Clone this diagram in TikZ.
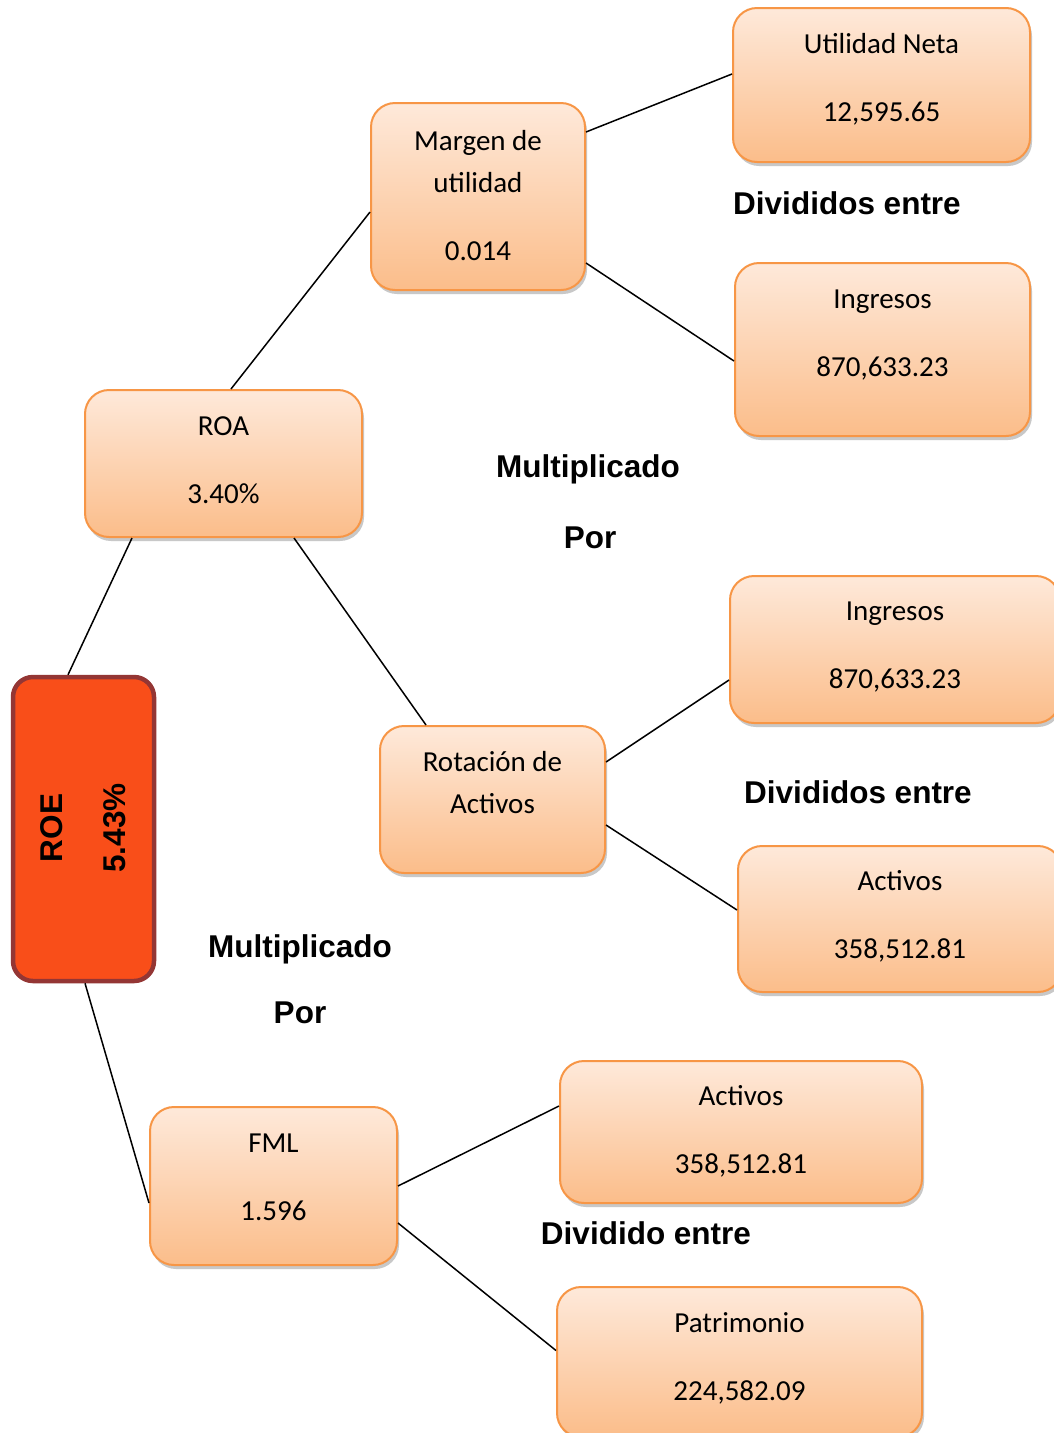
\documentclass[tikz,border=0pt]{standalone}
\usepackage{fontspec}
\setmainfont{Carlito}
\newfontfamily\lab{Liberation Sans}
\usetikzlibrary{shadows,calc}
\definecolor{obord}{HTML}{F79646}
\definecolor{otop}{HTML}{FEE9DA}
\definecolor{obot}{HTML}{FBBD8A}
\definecolor{roefill}{HTML}{F94E19}
\definecolor{roebord}{HTML}{943634}
\tikzset{
 ibox/.style={draw=obord, line width=2pt, rounded corners=24pt, top color=otop, bottom color=obot,
   drop shadow={opacity=0.3, shadow xshift=2pt, shadow yshift=-4pt, fill=black!70}, inner sep=0pt},
 txt/.style={align=center, inner sep=0pt, font=\fontsize{29}{42}\selectfont},
 lbl/.style={inner sep=0pt, font=\lab\bfseries\fontsize{31.5}{38}\selectfont},
 conn/.style={draw=black, line width=1.5pt}
}
\begin{document}
\begin{tikzpicture}[x=1pt,y=-1pt]
\clip (0,0) rectangle (1054,1433);
\fill[white] (0,0) rectangle (1054,1433);
% boxes
\node[ibox, minimum width=297pt, minimum height=154pt] (un) at (881.5,85) {};
\node[txt] (unt) at (881.5,79) {Utilidad Neta\\[26pt]12,595.65};
\node[ibox, minimum width=214pt, minimum height=187pt] (mg) at (478,196.5) {};
\node[txt] (mgt) at (478,196) {Margen de\\utilidad\\[26pt]0.014};
\node[ibox, minimum width=295pt, minimum height=173pt] (in1) at (882.5,349.5) {};
\node[txt] (in1t) at (882.5,335.5) {Ingresos\\[26pt]870,633.23};
\node[ibox, minimum width=277pt, minimum height=147pt] (roa) at (223.5,463.5) {};
\node[txt] (roat) at (223.5,460) {ROA\\[26pt]3.40\%};
\node[ibox, minimum width=330pt, minimum height=147pt] (in2) at (895,649.5) {};
\node[txt] (in2t) at (895,647) {Ingresos\\[26pt]870,633.23};
\node[ibox, minimum width=225pt, minimum height=147pt] (rot) at (492.5,799.5) {};
\node[txt] (rott) at (492.5,783) {Rotación de\\Activos};
\node[ibox, minimum width=324pt, minimum height=146pt] (ac1) at (900,919) {};
\node[txt] (ac1t) at (900,916) {Activos\\[26pt]358,512.81};
\node[ibox, minimum width=362pt, minimum height=142pt] (ac2) at (741,1132) {};
\node[txt] (ac2t) at (741,1131) {Activos\\[26pt]358,512.81};
\node[ibox, minimum width=247pt, minimum height=158pt] (fml) at (273.5,1186) {};
\node[txt] (fmlt) at (273.5,1177.5) {FML\\[26pt]1.596};
\node[ibox, minimum width=365pt, minimum height=150pt] (pat) at (739.5,1362) {};
\node[txt] (patt) at (739.5,1358) {Patrimonio\\[26pt]224,582.09};
% ROE box
\node[draw=roebord, fill=roefill, line width=4.5pt, rounded corners=20pt, minimum width=141pt, minimum height=304pt, inner sep=0pt] (roe) at (83.5,829) {};
\node[lbl, rotate=90, align=center, font=\lab\bfseries\fontsize{31.5}{63}\selectfont] (roet) at (83.5,828) {ROE\\5.43\%};
% labels
\node[lbl] (d1) at (847,203) {Divididos entre};
\node[lbl] (m1) at (588,469) {Multiplicado};
\node[lbl] (p1) at (590,538) {Por};
\node[lbl] (d2) at (858,792) {Divididos entre};
\node[lbl] (m2) at (300,949) {Multiplicado};
\node[lbl] (p2) at (300,1013) {Por};
\node[lbl] (d3) at (646,1233) {Dividido entre};
% connectors
\draw[conn] ([yshift=64.5pt]mg.east) -- ([yshift=11pt]un.west);
\draw[conn] ([yshift=-66.5pt]mg.east) -- ([yshift=-11.5pt]in1.west);
\draw[conn] ([xshift=7.5pt]roa.north) -- ([yshift=-15.5pt]mg.west);
\draw[conn] ([xshift=-91.5pt]roa.south) -- ([xshift=-15.5pt]roe.north);
\draw[conn] ([xshift=70.5pt]roa.south) -- ([xshift=-66.5pt]rot.north);
\draw[conn] ([yshift=37.5pt]rot.east) -- ([yshift=-30.5pt]in2.west);
\draw[conn] ([yshift=-25.5pt]rot.east) -- ([yshift=9pt]ac1.west);
\draw[conn] ([xshift=1.5pt]roe.south) -- ([yshift=-17pt]fml.west);
\draw[conn] (fml.east) -- ([yshift=26pt]ac2.west);
\draw[conn] ([yshift=-37pt]fml.east) -- ([yshift=11.5pt]pat.west);
\end{tikzpicture}
\end{document}
